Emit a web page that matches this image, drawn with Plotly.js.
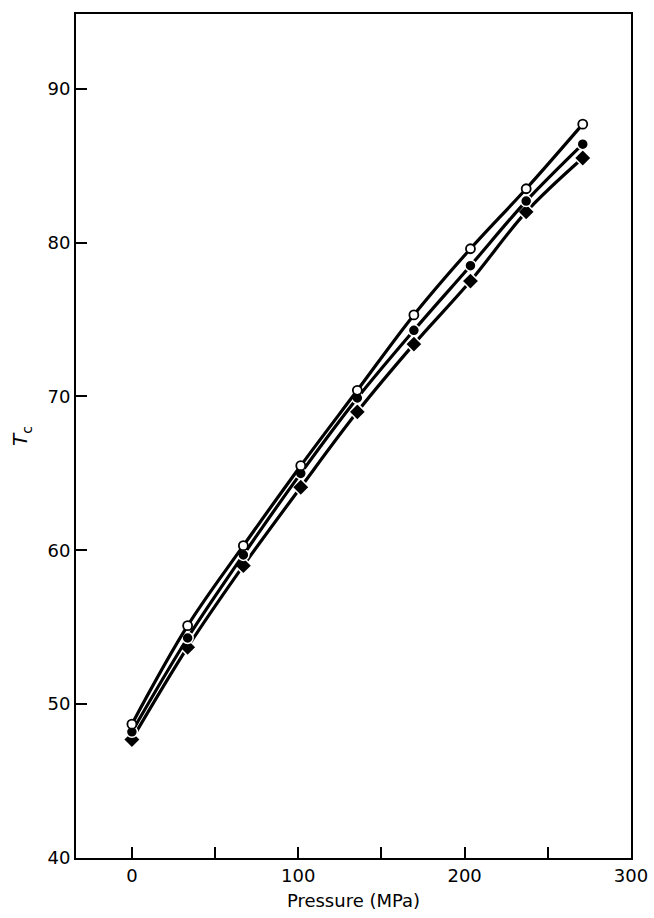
<!DOCTYPE html>
<html>
<head>
<meta charset="utf-8">
<script src="https://cdn.plot.ly/plotly-3.0.1.min.js"></script>
<style>
  html, body { margin: 0; padding: 0; background: #fff; }
  #plot { width: 654px; height: 918px; }
</style>
</head>
<body>
<div id="plot"></div>
<script>
// Pressure (MPa) at each measurement
const pressure = [0, 33.5, 67, 101.5, 135.5, 169.5, 203.5, 237, 271];

// Critical temperature Tc for the three samples
const tcOpen = [48.7, 55.1, 60.3, 65.5, 70.4, 75.3, 79.6, 83.5, 87.7];
const tcFilled = [48.2, 54.3, 59.7, 65.0, 69.9, 74.3, 78.5, 82.7, 86.4];
const tcDiamond = [47.7, 53.7, 59.0, 64.1, 69.0, 73.4, 77.5, 82.0, 85.5];

// Axis ticks
const xTickVals = [0, 50, 100, 150, 200, 250, 300];
const xTickText = ['0', '', '100', '', '200', '', '300'];
const yTickVals = [40, 50, 60, 70, 80, 90];

const lineStyle = { color: '#000', width: 3.2, shape: 'spline', smoothing: 1 };

const traces = [
  {
    x: pressure, y: tcDiamond, mode: 'lines+markers', name: 'diamond',
    line: lineStyle,
    marker: { symbol: 'diamond', size: 13, color: '#000', line: { color: '#fff', width: 1.5 } }
  },
  {
    x: pressure, y: tcFilled, mode: 'lines+markers', name: 'filled',
    line: lineStyle,
    marker: { symbol: 'circle', size: 11, color: '#000', line: { color: '#fff', width: 1.5 } }
  },
  {
    x: pressure, y: tcOpen, mode: 'lines+markers', name: 'open',
    line: lineStyle,
    marker: { symbol: 'circle', size: 9, color: '#fff', line: { color: '#000', width: 1.8 } }
  }
];

const font = { family: 'DejaVu Sans, sans-serif', size: 18, color: '#000' };

const layout = {
  width: 654,
  height: 918,
  margin: { l: 76, r: 23, t: 14, b: 60 },
  paper_bgcolor: '#fff',
  plot_bgcolor: '#fff',
  showlegend: false,
  font: font,
  xaxis: {
    range: [-33.6, 300],
    tickvals: xTickVals,
    ticktext: xTickText,
    ticks: 'inside',
    ticklen: 11,
    tickwidth: 2,
    tickcolor: '#000',
    showline: true,
    linecolor: '#000',
    linewidth: 2,
    mirror: true,
    showgrid: false,
    zeroline: false,
    tickfont: font,
    title: { text: 'Pressure (MPa)', font: font, standoff: 10 }
  },
  yaxis: {
    range: [40, 94.86],
    tickvals: yTickVals,
    ticks: 'inside',
    ticklen: 11,
    tickwidth: 2,
    tickcolor: '#000',
    showline: true,
    linecolor: '#000',
    linewidth: 2,
    mirror: true,
    showgrid: false,
    zeroline: false,
    tickfont: font,
    title: { text: '<i>T</i><sub>c</sub>', font: { family: 'DejaVu Sans, sans-serif', size: 20, color: '#000' }, standoff: 14 }
  }
};

Plotly.newPlot('plot', traces, layout, { displayModeBar: false, staticPlot: true });
</script>
</body>
</html>
